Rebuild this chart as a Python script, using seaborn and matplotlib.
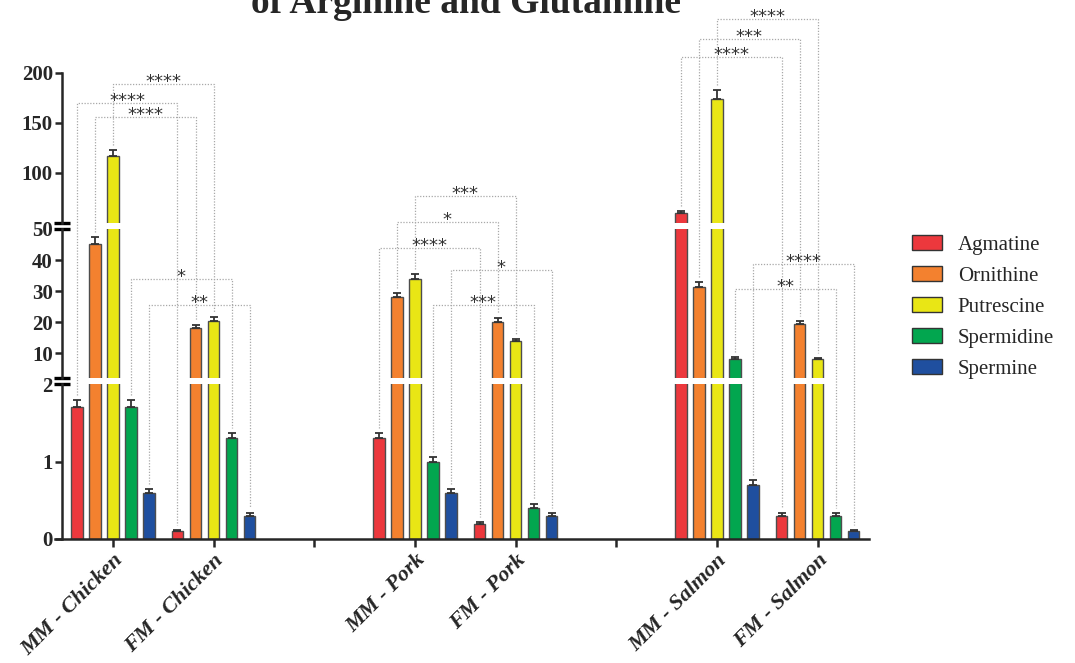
import numpy as np
import pandas as pd
import seaborn as sns
import matplotlib.pyplot as plt
from matplotlib.patches import Patch
from matplotlib.lines import Line2D

# x positions (blank names are the spacers between foods)
groups = ["MM - Chicken", "FM - Chicken", " ", "MM - Pork", "FM - Pork", "  ",
          "MM - Salmon", "FM - Salmon"]
samples = ["MM - Chicken", "FM - Chicken", "MM - Pork", "FM - Pork",
           "MM - Salmon", "FM - Salmon"]
amines = ["Agmatine", "Ornithine", "Putrescine", "Spermidine", "Spermine"]
colors = ["#ec383d", "#f3812f", "#e9e615", "#02a64f", "#1f4f9f"]

agmatine = [1.7, 0.1, 1.3, 0.2, 60.0, 0.3]
ornithine = [45.2, 18.2, 28.0, 20.1, 31.4, 19.4]
putrescine = [117.0, 20.5, 33.8, 13.9, 174.0, 8.1]
spermidine = [1.7, 1.3, 1.0, 0.4, 8.1, 0.3]
spermine = [0.6, 0.3, 0.6, 0.3, 0.7, 0.1]

agmatine_err = [0.1, 0.01, 0.07, 0.02, 2.5, 0.03]
ornithine_err = [2.3, 1.0, 1.5, 1.2, 1.5, 1.0]
putrescine_err = [6.0, 1.0, 1.6, 0.8, 9.0, 0.4]
spermidine_err = [0.1, 0.07, 0.06, 0.05, 0.7, 0.04]
spermine_err = [0.05, 0.03, 0.05, 0.03, 0.06, 0.01]

# MM vs FM comparisons per food: which amine, bracket height (data units), label
foods = ["Chicken", "Pork", "Salmon"]
sig_amine = [["Putrescine", "Agmatine", "Ornithine", "Spermidine", "Spermine"],
             ["Putrescine", "Ornithine", "Agmatine", "Spermine", "Spermidine"],
             ["Putrescine", "Ornithine", "Agmatine", "Spermine", "Spermidine"]]
sig_height = [[188.7, 169.7, 155.7, 33.9, 25.6],
              [77.3, 50.7, 43.9, 36.9, 25.5],
              [254.0, 233.7, 216.3, 38.6, 30.7]]
sig_label = [["****", "****", "****", "*", "**"],
             ["***", "*", "****", "*", "***"],
             ["****", "***", "****", "****", "**"]]

values = dict(zip(amines, [agmatine, ornithine, putrescine, spermidine, spermine]))
errors = dict(zip(amines, [agmatine_err, ornithine_err, putrescine_err,
                           spermidine_err, spermine_err]))

rows = []
for a in amines:
    for s, v, e in zip(samples, values[a], errors[a]):
        rows.append({"sample": s, "amine": a, "value": v, "err": e})
df = pd.DataFrame(rows)

sns.set_style("ticks")
plt.rcParams["font.family"] = ["Liberation Serif", "DejaVu Serif"]
plt.rcParams["axes.linewidth"] = 1.8

W, H = 1075, 663
fig = plt.figure(figsize=(W / 100, H / 100), dpi=100)
left, width = 62 / W, 807 / W
ax_top = fig.add_axes([left, (H - 223) / H, width, 150 / H])
ax_mid = fig.add_axes([left, (H - 378) / H, width, 149 / H])
ax_bot = fig.add_axes([left, (H - 539) / H, width, 155 / H])
axes = [ax_top, ax_mid, ax_bot]
limits = [(50, 200), (2, 50), (0, 2)]
ticks = [[100, 150, 200], [10, 20, 30, 40, 50], [0, 1, 2]]

for ax, lim, tk in zip(axes, limits, ticks):
    sns.barplot(data=df, x="sample", y="value", hue="amine", order=groups,
                hue_order=amines, palette=colors, saturation=1, errorbar=None,
                width=0.895, gap=0.36, edgecolor="#4d4d4d", linewidth=1.0,
                legend=False, ax=ax)
    ax.set_xlim(-0.505, 7.51)
    ax.set_ylim(*lim)
    ax.set_yticks(tk)
    ax.set_xlabel("")
    ax.set_ylabel("")
    for sp in ["top", "right"]:
        ax.spines[sp].set_visible(False)
    ax.tick_params(axis="y", length=5, width=1.8, pad=1.5, labelsize=15)
    for lbl in ax.get_yticklabels():
        lbl.set_fontweight("bold")
    ax.patch.set_alpha(0)

for ax in [ax_top, ax_mid]:
    ax.spines["bottom"].set_visible(False)
    ax.tick_params(axis="x", bottom=False, labelbottom=False)

ax_bot.tick_params(axis="x", length=6, width=1.8, pad=2)
ax_bot.set_xticks(range(len(groups)))
ax_bot.set_xticklabels(groups, rotation=45, ha="right", rotation_mode="anchor",
                       fontsize=16, fontweight="bold", fontstyle="italic")
ax_bot.spines["bottom"].set_bounds(-0.575, 7.51)

# break marks on the y axis
d = 0.0093
kw = dict(color="black", lw=2.4, clip_on=False, solid_capstyle="butt")
ax_top.plot([-d, d], [0, 0], transform=ax_top.transAxes, **kw)
ax_mid.plot([-d, d], [1, 1], transform=ax_mid.transAxes, **kw)
ax_mid.plot([-d, d], [0, 0], transform=ax_mid.transAxes, **kw)
ax_bot.plot([-d, d], [1, 1], transform=ax_bot.transAxes, **kw)

# bar centres from the seaborn bars
centers = {}
for a, cont in zip(amines, ax_bot.containers):
    for bar in cont:
        xc = bar.get_x() + bar.get_width() / 2
        centers[(groups[int(round(xc))], a)] = xc

xs, ys, es = [], [], []
for a in amines:
    for s, v, e in zip(samples, values[a], errors[a]):
        xs.append(centers[(s, a)])
        ys.append(v)
        es.append(e)
xs, ys, es = np.array(xs), np.array(ys), np.array(es)
for ax, (lo, hi) in zip(axes, limits):
    m = (ys + es >= lo) & (ys + es <= hi)
    ax.errorbar(xs[m], ys[m], yerr=[np.zeros(m.sum()), es[m]], fmt="none",
                ecolor="#333333", elinewidth=1.3, capsize=3, capthick=1.3)


def to_px(x, v):
    ax = ax_top if v > 50 else (ax_mid if v >= 2 else ax_bot)
    return ax.transData.transform((x, v))


for food, am_list, h_list, l_list in zip(foods, sig_amine, sig_height, sig_label):
    s1, s2 = "MM - " + food, "FM - " + food
    for a, h, lab in zip(am_list, h_list, l_list):
        i1, i2 = samples.index(s1), samples.index(s2)
        x1, x2 = centers[(s1, a)], centers[(s2, a)]
        p1 = to_px(x1, values[a][i1] + errors[a][i1])
        p2 = to_px(x2, values[a][i2] + errors[a][i2])
        ph = to_px(x1, h)
        px = [p1[0], p1[0], p2[0], p2[0]]
        py = [p1[1] + 5, ph[1], ph[1], p2[1] + 5]
        fig.add_artist(Line2D(np.array(px) / W, np.array(py) / H,
                              transform=fig.transFigure, color="#a8a8a8",
                              lw=0.9, ls=(0, (1, 1.3))))
        fig.text((p1[0] + p2[0]) / 2 / W, (ph[1] - 3) / H, lab, ha="center",
                 va="baseline", fontsize=13, color="#333333",
                 family=["DejaVu Sans"])

handles = [Patch(facecolor=c, edgecolor="#333333", linewidth=1.0) for c in colors]
fig.legend(handles, amines, loc="center left",
           bbox_to_anchor=(912 / W, (H - 307) / H), frameon=False, fontsize=15,
           handlelength=1.45, handleheight=0.7, labelspacing=0.55,
           handletextpad=0.75, borderpad=0, borderaxespad=0)

fig.text(466 / W, (H - 13) / H, "of Arginine and Glutamine", ha="center",
         va="baseline", fontsize=27, fontweight="bold")

fig.savefig("out.png", dpi=100)
